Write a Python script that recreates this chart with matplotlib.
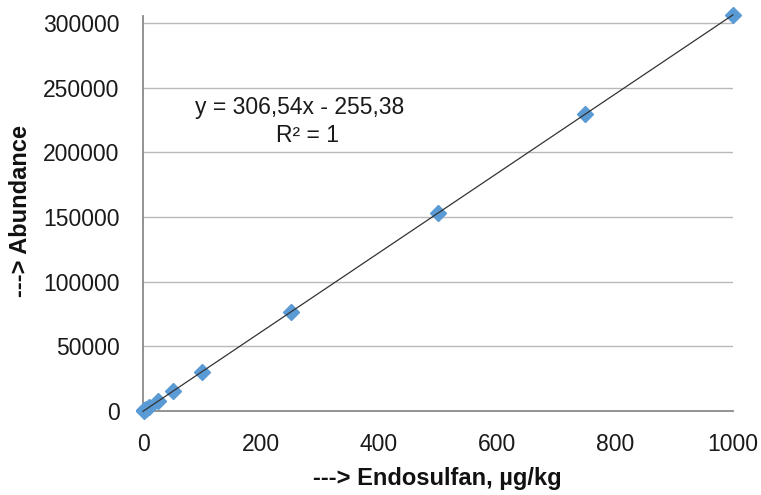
import matplotlib
matplotlib.use("Agg")
import matplotlib.pyplot as plt
import numpy as np

# Calibration levels (µg/kg) and measured abundance
concentration = [1, 2.5, 5, 10, 25, 50, 100, 250, 500, 750, 1000]
abundance = [60, 520, 1280, 2820, 7400, 15100, 30300, 76500, 152900, 229700, 306300]

# Linear trendline reported on the chart
slope = 306.54
intercept = -255.38
r_squared = 1

x_ticks = [0, 200, 400, 600, 800, 1000]
y_ticks = [0, 50000, 100000, 150000, 200000, 250000, 300000]

plt.rcParams['font.family'] = ['Liberation Sans', 'DejaVu Sans']

W, H = 761, 495
fig = plt.figure(figsize=(W / 100, H / 100), dpi=100)
ax = fig.add_axes([143 / W, 1 - 411 / H, 590 / W, 395 / H])

# gridlines
for yt in y_ticks[1:]:
    ax.axhline(yt, color='#b9b9b9', lw=1.0, zorder=0)

# data points
ax.plot(concentration, abundance, linestyle='none', marker='D', markersize=8.5,
        color='#5b9bd5', markeredgecolor='#5b9bd5', clip_on=False, zorder=3)

# trendline
xl = np.array([0, 1000])
ax.plot(xl, slope * xl + intercept, color='#333333', lw=0.9, zorder=4, clip_on=False)

ax.set_xlim(0, 1000)
ax.set_ylim(0, 305400)
ax.set_xticks(x_ticks)
ax.set_yticks(y_ticks)
ax.set_xticklabels([str(t) for t in x_ticks])
ax.set_yticklabels([str(t) for t in y_ticks])
ax.tick_params(axis='both', length=0, labelsize=16.5, colors='#1a1a1a')
ax.tick_params(axis='y', pad=17)
ax.tick_params(axis='x', pad=16)

for side in ['top', 'right']:
    ax.spines[side].set_visible(False)
for side in ['left', 'bottom']:
    ax.spines[side].set_color('#8a8a8a')
    ax.spines[side].set_linewidth(1.3)

# axis titles
fig.text(437 / W, 1 - 479 / H, '---> Endosulfan, µg/kg', fontsize=17, fontweight='bold',
         ha='center', va='center', color='#111111')
fig.text(21 / W, 1 - 211 / H, '---> Abundance', fontsize=17, fontweight='bold',
         rotation=90, ha='center', va='center', color='#111111')

# trendline equation
eq = 'y = {:.2f}x - {:.2f}'.format(slope, abs(intercept)).replace('.', ',')
fig.text(300 / W, 1 - 107 / H, eq, fontsize=16.5, ha='center', va='center', color='#1a1a1a')
fig.text(307 / W, 1 - 135 / H, 'R² = {}'.format(r_squared), fontsize=16.5,
         ha='center', va='center', color='#1a1a1a')

fig.savefig('out.png', dpi=100)
